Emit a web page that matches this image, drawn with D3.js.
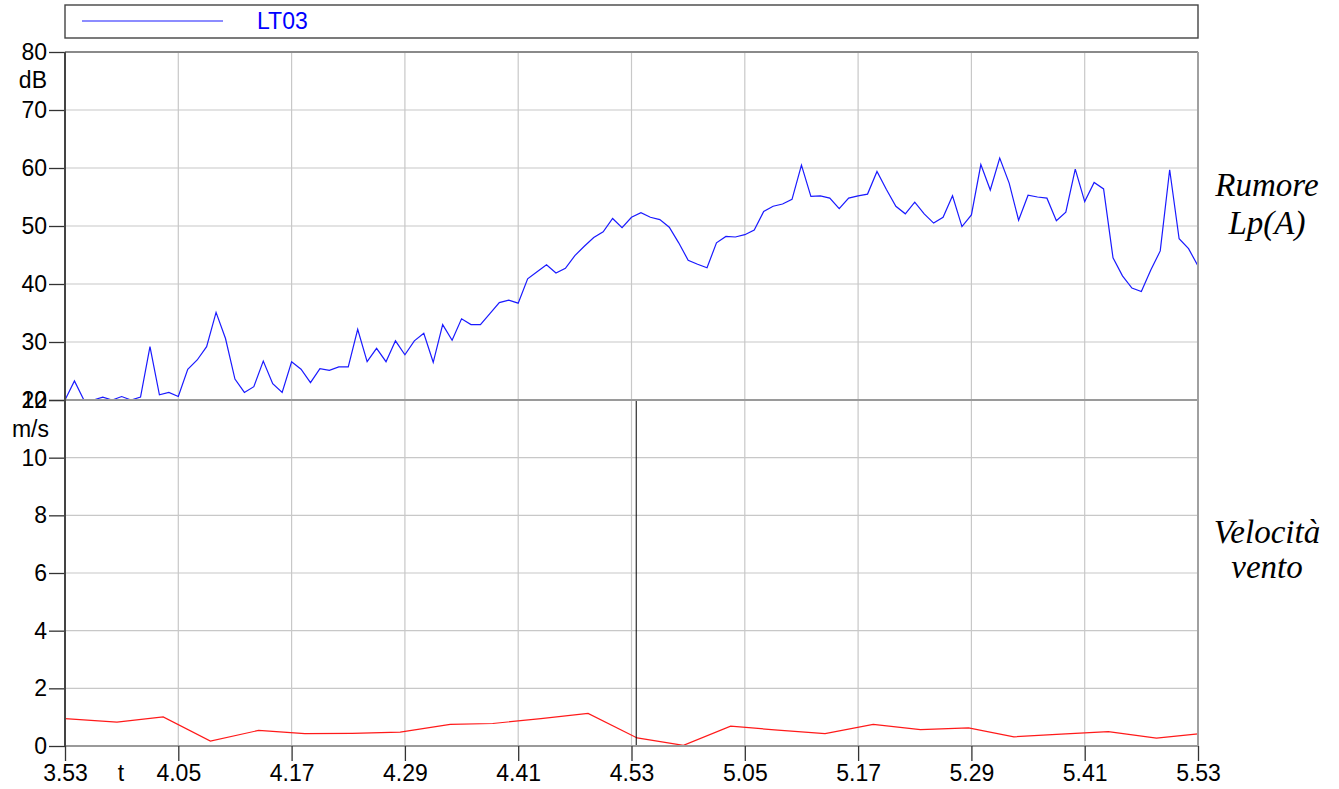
<!DOCTYPE html>
<html>
<head>
<meta charset="utf-8">
<script src="https://cdn.jsdelivr.net/npm/d3@7"></script>
<style>
  html, body { margin: 0; padding: 0; background: #fff; }
  svg { display: block; }
</style>
</head>
<body>
<svg id="chart" width="1339" height="789"></svg>
<script>
// ---- DATA ----
const timeTickMinutes = [0, 12, 24, 36, 48, 60, 72, 84, 96, 108, 120];
const timeTickLabels = ["3.53", "4.05", "4.17", "4.29", "4.41", "4.53", "5.05", "5.17", "5.29", "5.41", "5.53"];

// Noise Lp(A) in dB, one value per minute from 3.53 to 5.53
const noiseValues = [
  20, 23.3, 20, 20, 20.5, 20, 20.6, 20, 20.5, 29.2,
  20.9, 21.3, 20.6, 25.3, 26.9, 29.2, 35.1, 30.6, 23.6, 21.3,
  22.3, 26.7, 22.8, 21.3, 26.6, 25.3, 23.0, 25.4, 25.1, 25.7,
  25.7, 32.2, 26.6, 28.9, 26.6, 30.2, 27.8, 30.2, 31.5, 26.5,
  33.0, 30.3, 34.0, 33.0, 33.0, 34.9, 36.8, 37.2, 36.7, 40.9,
  42.1, 43.3, 41.9, 42.7, 44.9, 46.5, 48.0, 49.0, 51.3, 49.7,
  51.5, 52.3, 51.5, 51.1, 49.8, 47.1, 44.1, 43.4, 42.8, 47.1,
  48.2, 48.1, 48.5, 49.3, 52.5, 53.4, 53.8, 54.6, 60.5, 55.1,
  55.2, 54.8, 53.0, 54.8, 55.2, 55.5, 59.4, 56.3, 53.4, 52.1,
  54.1, 52.1, 50.5, 51.5, 55.2, 49.9, 51.9, 60.6, 56.2, 61.7,
  57.4, 51.0, 55.3, 55.0, 54.8, 50.9, 52.4, 59.8, 54.2, 57.5,
  56.4, 44.5, 41.4, 39.3, 38.7, 42.4, 45.7, 59.7, 47.8, 46.1,
  43.1
];

// Wind speed in m/s (minutes after 3.53)
const windMinutes = [0, 5.5, 10.4, 15.4, 20.5, 25.4, 30.4, 35.5, 40.8, 45.3, 50.4, 55.4, 60.6,
                     65.5, 70.5, 75.5, 80.5, 85.6, 90.6, 95.7, 100.5, 105.5, 110.5, 115.6, 120];
const windValues = [0.95, 0.83, 1.01, 0.17, 0.54, 0.43, 0.44, 0.48, 0.75, 0.78, 0.95, 1.13, 0.28,
                    0.02, 0.69, 0.55, 0.43, 0.75, 0.57, 0.63, 0.32, 0.41, 0.50, 0.27, 0.42];

const noiseTicks = [20, 30, 40, 50, 60, 70, 80];
const windTicks = [0, 2, 4, 6, 8, 10, 12];
const cursorMinute = 60.5;
const legendLabel = "LT03";
const noiseUnit = "dB";
const windUnit = "m/s";
const timeUnit = "t";
const noiseTitle = ["Rumore", "Lp(A)"];
const windTitle = ["Velocità", "vento"];

// ---- LAYOUT ----
const svg = d3.select("#chart");
const L = 65, R = 1198, T = 52, MID = 400, B = 746;
const font = "'Liberation Sans', Arial, sans-serif";
const tickFont = 23;

svg.append("rect").attr("width", 1339).attr("height", 789).attr("fill", "#fff");

const x = d3.scaleLinear().domain([0, 120]).range([L, R]);
const yN = d3.scaleLinear().domain([20, 80]).range([MID, T]);
const yW = d3.scaleLinear().domain([0, 12]).range([B, MID]);

// Grid
const grid = svg.append("g").attr("stroke", "#c8c8c8").attr("stroke-width", 1.2);
timeTickMinutes.slice(1, -1).forEach(m => {
  grid.append("line").attr("x1", x(m)).attr("x2", x(m)).attr("y1", T).attr("y2", B);
});
noiseTicks.slice(1, -1).forEach(v => {
  grid.append("line").attr("x1", L).attr("x2", R).attr("y1", yN(v)).attr("y2", yN(v));
});
windTicks.slice(1, -1).forEach(v => {
  grid.append("line").attr("x1", L).attr("x2", R).attr("y1", yW(v)).attr("y2", yW(v));
});

// Data lines
svg.append("defs").append("clipPath").attr("id", "clipTop")
  .append("rect").attr("x", L).attr("y", T).attr("width", R - L).attr("height", MID - T);

svg.append("path")
  .datum(noiseValues)
  .attr("clip-path", "url(#clipTop)")
  .attr("fill", "none").attr("stroke", "#1a1aff").attr("stroke-width", 1.2)
  .attr("d", d3.line().x((d, i) => x(i)).y(d => yN(d)));

svg.append("path")
  .datum(windValues)
  .attr("fill", "none").attr("stroke", "#ff1a1a").attr("stroke-width", 1.2)
  .attr("d", d3.line().x((d, i) => x(windMinutes[i])).y(d => yW(d)));

// Cursor line
svg.append("line").attr("x1", x(cursorMinute)).attr("x2", x(cursorMinute))
  .attr("y1", MID).attr("y2", B).attr("stroke", "#000").attr("stroke-width", 1);

// Frame lines
const frame = svg.append("g").attr("stroke", "#9a9a9a").attr("stroke-width", 2);
frame.append("line").attr("x1", L).attr("x2", R).attr("y1", T).attr("y2", T).attr("stroke", "#8a8a8a");
frame.append("line").attr("x1", L).attr("x2", R).attr("y1", MID).attr("y2", MID);
frame.append("line").attr("x1", L).attr("x2", R).attr("y1", B).attr("y2", B);
frame.append("line").attr("x1", R).attr("x2", R).attr("y1", T).attr("y2", B).attr("stroke", "#a0a0a0");

// Axes
function styleAxis(g) {
  g.select(".domain").remove();
  g.selectAll(".tick line").attr("stroke", "#333").attr("stroke-width", 1.3);
  g.selectAll(".tick text").attr("font-family", font).attr("font-size", tickFont).attr("fill", "#000");
}
const axN = svg.append("g").attr("transform", `translate(${L},0)`)
  .call(d3.axisLeft(yN).tickValues(noiseTicks).tickSize(16).tickPadding(2).tickFormat(d3.format("d")));
styleAxis(axN);
const axW = svg.append("g").attr("transform", `translate(${L},0)`)
  .call(d3.axisLeft(yW).tickValues(windTicks).tickSize(16).tickPadding(2).tickFormat(d3.format("d")));
styleAxis(axW);
const axX = svg.append("g").attr("transform", `translate(0,${B})`)
  .call(d3.axisBottom(x).tickValues(timeTickMinutes).tickSize(15).tickPadding(4)
    .tickFormat((d, i) => timeTickLabels[i]));
styleAxis(axX);

// Left axis line
svg.append("line").attr("x1", L).attr("x2", L).attr("y1", T).attr("y2", B)
  .attr("stroke", "#444").attr("stroke-width", 2);

// Unit labels
svg.append("text").attr("x", 47).attr("y", 80).attr("dy", "0.35em").attr("text-anchor", "end")
  .attr("font-family", font).attr("font-size", tickFont).text(noiseUnit);
svg.append("text").attr("x", 49).attr("y", 429).attr("dy", "0.35em").attr("text-anchor", "end")
  .attr("font-family", font).attr("font-size", tickFont).text(windUnit);
svg.append("text").attr("x", 121).attr("y", B + 19).attr("dy", "0.71em").attr("text-anchor", "middle")
  .attr("font-family", font).attr("font-size", tickFont).text(timeUnit);

// Legend
svg.append("rect").attr("x", L).attr("y", 5).attr("width", R - L).attr("height", 33)
  .attr("fill", "#fff").attr("stroke", "#444").attr("stroke-width", 1.4);
svg.append("line").attr("x1", 82).attr("x2", 223).attr("y1", 21).attr("y2", 21)
  .attr("stroke", "#1a1aff").attr("stroke-width", 1.2);
svg.append("text").attr("x", 257).attr("y", 21).attr("dy", "0.35em")
  .attr("font-family", font).attr("font-size", 23).attr("fill", "#0000ff").text(legendLabel);

// Right titles
const serif = "'Liberation Serif', 'Times New Roman', serif";
function title(lines, baselines) {
  lines.forEach((t, i) => {
    svg.append("text").attr("x", 1267).attr("y", baselines[i]).attr("text-anchor", "middle")
      .attr("font-family", serif).attr("font-style", "italic").attr("font-size", 33).text(t);
  });
}
title(noiseTitle, [196, 234]);
title(windTitle, [543, 578]);
</script>
</body>
</html>
